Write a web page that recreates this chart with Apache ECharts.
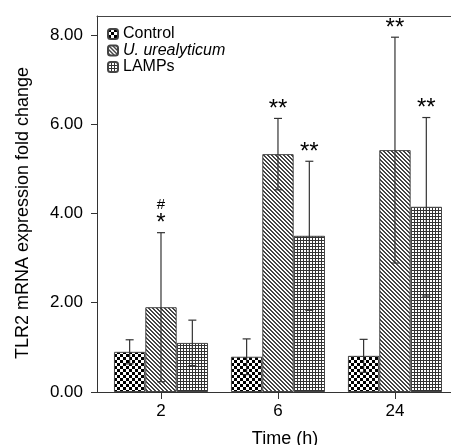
<!DOCTYPE html>
<html><head><meta charset="utf-8">
<script src="https://cdn.jsdelivr.net/npm/echarts@6/dist/echarts.min.js"></script>
<style>html,body{margin:0;padding:0;background:#fff}#c{width:451px;height:445px}</style>
</head><body><div id="c"></div>
<script>
const categories = ['2', '6', '24'];
const seriesNames = ['Control', 'U. urealyticum', 'LAMPs'];
const controlMean = [0.90, 0.79, 0.81];
const controlErr = [0.27, 0.40, 0.37];
const ureaMean = [1.90, 5.33, 5.42];
const ureaErr = [1.67, 0.80, 2.53];
const lampsMean = [1.10, 3.50, 4.15];
const lampsErr = [0.51, 1.67, 2.00];
const controlMarks = ['', '', ''];
const ureaMarks = ['*', '**', '**'];
const ureaHash = ['#', '', ''];
const lampsMarks = ['', '**', '**'];
const noHash = ['', '', ''];
const yTicks = [0, 2, 4, 6, 8];
const xTicks = [0, 1, 2];

function tile(w, h, draw) {
  const c = document.createElement('canvas');
  c.width = w; c.height = h;
  const g = c.getContext('2d');
  g.fillStyle = '#fff'; g.fillRect(0, 0, w, h);
  draw(g);
  return c;
}
const checker = tile(6, 6, g => { g.fillStyle = '#000'; g.fillRect(0, 0, 3, 3); g.fillRect(3, 3, 3, 3); });
const diag = tile(4, 4, g => {
  g.fillStyle = '#444';
  for (let x = 0; x < 4; x++) for (let y = 0; y < 4; y++) {
    if ((((x - y) % 4) + 4) % 4 < 2) g.fillRect(x, y, 1, 1);
  }
});
const gridTile = tile(3, 3, g => { g.fillStyle = '#333'; g.fillRect(0, 0, 3, 1); g.fillRect(0, 0, 1, 3); });
const patterns = [checker, diag, gridTile];

const BAR_FRAC = 0.268;

function barSeries(idx, means) {
  return {
    type: 'bar', name: seriesNames[idx],
    data: means.map((m, i) => [i, m]),
    barWidth: (BAR_FRAC * 100) + '%',
    barGap: '0%',
    itemStyle: { color: { image: patterns[idx], repeat: 'repeat' }, borderColor: '#444', borderWidth: 1 },
    z: 2
  };
}
function errSeries(idx, means, errs, marks, hashes) {
  return {
    type: 'custom', silent: true, z: 5,
    data: means.map((m, i) => [i, m, errs[i]]),
    renderItem(params, api) {
      const unit = api.size([1, 0])[0];
      const bw = unit * BAR_FRAC;
      const x = api.coord([api.value(0), 0])[0] + (idx - 1) * bw;
      const m = api.value(1), e = api.value(2);
      const yt = api.coord([0, m + e])[1];
      const yb = api.coord([0, m - e])[1];
      const cap = 4;
      const st = { stroke: '#333', lineWidth: 1.2 };
      const children = [
        { type: 'line', shape: { x1: x, y1: yt, x2: x, y2: yb }, style: st },
        { type: 'line', shape: { x1: x - cap, y1: yt, x2: x + cap, y2: yt }, style: st },
        { type: 'line', shape: { x1: x - cap, y1: yb, x2: x + cap, y2: yb }, style: st }
      ];
      const mk = marks[params.dataIndex];
      if (mk) children.push({ type: 'text', style: { text: mk, x: x, y: yt + 3, align: 'center', verticalAlign: 'bottom', fontSize: 24, fontFamily: 'Liberation Sans', fill: '#000' } });
      const hs = hashes[params.dataIndex];
      if (hs) children.push({ type: 'text', style: { text: hs, x: x, y: yt - 20, align: 'center', verticalAlign: 'bottom', fontSize: 15, fontFamily: 'Liberation Sans', fill: '#000' } });
      return { type: 'group', children };
    }
  };
}

const chart = echarts.init(document.getElementById('c'), null, { renderer: 'canvas' });
chart.setOption({
  animation: false,
  backgroundColor: '#fff',
  textStyle: { fontFamily: 'Liberation Sans' },
  grid: { left: 97, right: 0, top: 16, bottom: 53, containLabel: false, outerBoundsMode: 'none' },
  legend: {
    orient: 'vertical', left: 107, top: 26, padding: 0, itemWidth: 10, itemHeight: 10, itemGap: 0.5,
    data: seriesNames,
    textStyle: { fontSize: 16, lineHeight: 16, color: '#000', rich: { i: { fontStyle: 'italic', fontSize: 16, lineHeight: 16, color: '#000' } } },
    formatter: n => n === 'U. urealyticum' ? '{i|' + n + '}' : n
  },
  xAxis: [{
    type: 'value', min: -0.547, max: 2.479,
    axisLine: { onZero: false, lineStyle: { color: '#333', width: 1 } },
    axisTick: { customValues: xTicks, length: 7, lineStyle: { color: '#333' } },
    axisLabel: { customValues: xTicks, formatter: v => categories[Math.round(v)], fontSize: 17, color: '#000', margin: 11 },
    splitLine: { show: false },
    name: 'Time (h)', nameLocation: 'middle', nameGap: 38,
    nameTextStyle: { fontSize: 18, color: '#000', padding: [0, 0, 0, 22] }
  }, {
    type: 'value', position: 'top', min: -0.547, max: 2.479,
    axisLine: { show: true, onZero: false, lineStyle: { color: '#444', width: 1 } },
    axisTick: { show: false }, axisLabel: { show: false }, splitLine: { show: false }
  }],
  yAxis: {
    type: 'value', min: 0, max: 8.425,
    axisLine: { show: true, onZero: false, lineStyle: { color: '#333', width: 1 } },
    axisTick: { show: true, customValues: yTicks, length: 6, lineStyle: { color: '#333' } },
    axisLabel: { customValues: yTicks, formatter: v => v.toFixed(2), fontSize: 17, color: '#000', margin: 14 },
    splitLine: { show: false },
    name: 'TLR2 mRNA expression fold change', nameLocation: 'middle', nameGap: 65,
    nameTextStyle: { fontSize: 18, color: '#000', padding: [0, 18, 0, 0] }
  },
  series: [
    barSeries(0, controlMean), barSeries(1, ureaMean), barSeries(2, lampsMean),
    errSeries(0, controlMean, controlErr, controlMarks, noHash),
    errSeries(1, ureaMean, ureaErr, ureaMarks, ureaHash),
    errSeries(2, lampsMean, lampsErr, lampsMarks, noHash)
  ]
});
</script></body></html>
